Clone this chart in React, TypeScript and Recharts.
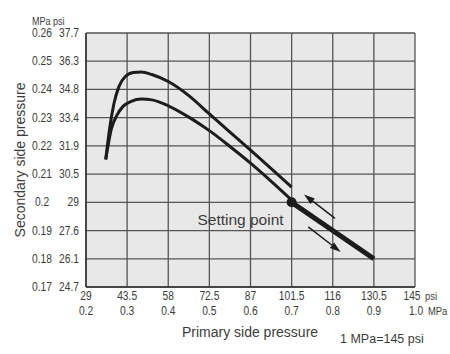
import { LineChart, Line, XAxis, YAxis, CartesianGrid, ReferenceDot, ReferenceLine, Label } from 'recharts';

// secondary pressure (MPa) vs primary pressure (MPa)
const upperCurve = [
  { x: 0.248, y: 0.2152 }, { x: 0.258, y: 0.2267 }, { x: 0.268, y: 0.235 }, { x: 0.28, y: 0.241 },
  { x: 0.295, y: 0.2445 }, { x: 0.315, y: 0.246 }, { x: 0.335, y: 0.2462 }, { x: 0.36, y: 0.2453 },
  { x: 0.4, y: 0.2428 }, { x: 0.45, y: 0.2378 }, { x: 0.5, y: 0.2313 }, { x: 0.55, y: 0.2249 },
  { x: 0.6, y: 0.2185 }, { x: 0.7, y: 0.2054 },
];
const lowerCurve = [
  { x: 0.248, y: 0.2152 }, { x: 0.262, y: 0.2262 }, { x: 0.275, y: 0.2308 }, { x: 0.29, y: 0.234 },
  { x: 0.31, y: 0.2358 }, { x: 0.335, y: 0.2366 }, { x: 0.36, y: 0.2363 }, { x: 0.4, y: 0.2342 },
  { x: 0.45, y: 0.2302 }, { x: 0.5, y: 0.2254 }, { x: 0.55, y: 0.2198 }, { x: 0.6, y: 0.2139 },
  { x: 0.7, y: 0.2008 },
];
const settingLine = [{ x: 0.7, y: 0.2 }, { x: 0.9, y: 0.18 }];
const settingPoint = { x: 0.7, y: 0.2 };
const arrowUp = [{ x: 0.8055, y: 0.1943 }, { x: 0.73, y: 0.2028 }];
const arrowDown = [{ x: 0.7405, y: 0.1913 }, { x: 0.8193, y: 0.1824 }];

const xTicksMpa = [0.2, 0.3, 0.4, 0.5, 0.6, 0.7, 0.8, 0.9, 1.0];
const xLabelsMpa = ['0.2', '0.3', '0.4', '0.5', '0.6', '0.7', '0.8', '0.9', '1.0'];
const xLabelsPsi = ['29', '43.5', '58', '72.5', '87', '101.5', '116', '130.5', '145'];
const yTicksMpa = [0.17, 0.18, 0.19, 0.2, 0.21, 0.22, 0.23, 0.24, 0.25, 0.26];
const yLabelsMpa = ['0.17', '0.18', '0.19', '0.2', '0.21', '0.22', '0.23', '0.24', '0.25', '0.26'];
const yLabelsPsi = ['24.7', '26.1', '27.6', '29', '30.5', '31.9', '33.4', '34.8', '36.3', '37.7'];

const sans = "'Liberation Sans', Arial, sans-serif";
const txt = '#3c3c3c';
const ink = '#1c1c1c';

// condensed text: the reference uses a narrow face
function NText({ x, y, anchor = 'start', size = 12.5, children }: any) {
  return (
    <text transform={`translate(${x} ${y}) scale(0.82 1)`} textAnchor={anchor} fontFamily={sans} fontSize={size} fill={txt}>{children}</text>
  );
}

function XTick({ x, index }: any) {
  const last = index === xTicksMpa.length - 1;
  return (
    <g>
      <NText x={last ? x - 3 : x} y={300} anchor="middle">{xLabelsPsi[index]}</NText>
      <NText x={last ? x + 1 : x} y={315} anchor="middle">{xLabelsMpa[index]}</NText>
      {last && <NText x={x + 10} y={300} size={11.5}>psi</NText>}
      {last && <NText x={x + 13} y={315} size={11.5}>MPa</NText>}
    </g>
  );
}

function YTick({ y, index }: any) {
  return (
    <g>
      <NText x={42} y={y + 4} anchor="middle">{yLabelsMpa[index]}</NText>
      <NText x={79} y={y + 4} anchor="end">{yLabelsPsi[index]}</NText>
    </g>
  );
}

function Arrow(props: any) {
  const { x1, y1, x2, y2 } = props;
  const a = Math.atan2(y2 - y1, x2 - x1);
  const len = 11, w = 3.5;
  const bx = x2 - len * Math.cos(a), by = y2 - len * Math.sin(a);
  const px = -Math.sin(a) * w, py = Math.cos(a) * w;
  return (
    <g>
      <line x1={x1} y1={y1} x2={bx} y2={by} stroke={ink} strokeWidth={1.5} />
      <polygon points={`${x2},${y2} ${bx + px},${by + py} ${bx - px},${by - py}`} fill={ink} />
    </g>
  );
}

export default function App() {
  return (
    <div style={{ position: 'absolute', left: 0, top: 0, width: 450, height: 354, background: '#fff' }}>
      <LineChart width={450} height={354} margin={{ top: 33, right: 35, bottom: 0, left: 0 }}>
        <CartesianGrid stroke="#555" strokeWidth={1.3} fill="#e8e8e8" fillOpacity={1} />
        <XAxis type="number" dataKey="x" domain={[0.2, 1.0]} ticks={xTicksMpa} interval={0} height={67}
          tick={XTick} tickLine={false} axisLine={{ stroke: '#333', strokeWidth: 1.5 }} allowDataOverflow>
          <Label content={() => (
            <g>
              <text x={250} y={337} textAnchor="middle" fontFamily={sans} fontSize={14} fill={txt}>Primary side pressure</text>
              <text x={340} y={343} fontFamily={sans} fontSize={12.5} fill={txt}>1 MPa=145 psi</text>
            </g>
          )} />
        </XAxis>
        <YAxis type="number" domain={[0.17, 0.26]} ticks={yTicksMpa} interval={0} width={86}
          tick={YTick} tickLine={false} axisLine={{ stroke: '#333', strokeWidth: 1.5 }} allowDataOverflow>
          <Label content={() => (
            <g>
              <text x={25} y={160} transform="rotate(-90 25 160)" textAnchor="middle" fontFamily={sans} fontSize={14} fill={txt}>Secondary side pressure</text>
              <NText x={32} y={25} size={11}>MPa</NText>
              <NText x={53} y={25} size={11}>psi</NText>
            </g>
          )} />
        </YAxis>
        <Line data={upperCurve} dataKey="y" type="monotone" stroke={ink} strokeWidth={3} dot={false} activeDot={false} isAnimationActive={false} />
        <Line data={lowerCurve} dataKey="y" type="monotone" stroke={ink} strokeWidth={3} dot={false} activeDot={false} isAnimationActive={false} />
        <Line data={settingLine} dataKey="y" type="linear" stroke={ink} strokeWidth={5} dot={false} activeDot={false} isAnimationActive={false} />
        <ReferenceLine segment={arrowUp} shape={Arrow} />
        <ReferenceLine segment={arrowDown} shape={Arrow} />
        <ReferenceDot x={settingPoint.x} y={settingPoint.y} r={5} fill={ink} stroke="none"
          label={({ viewBox }: any) => (
            <text x={viewBox.x - 3} y={viewBox.y + 28} textAnchor="end" fontFamily={sans} fontSize={15.5} fill={txt}>Setting point</text>
          )} />
      </LineChart>
    </div>
  );
}
